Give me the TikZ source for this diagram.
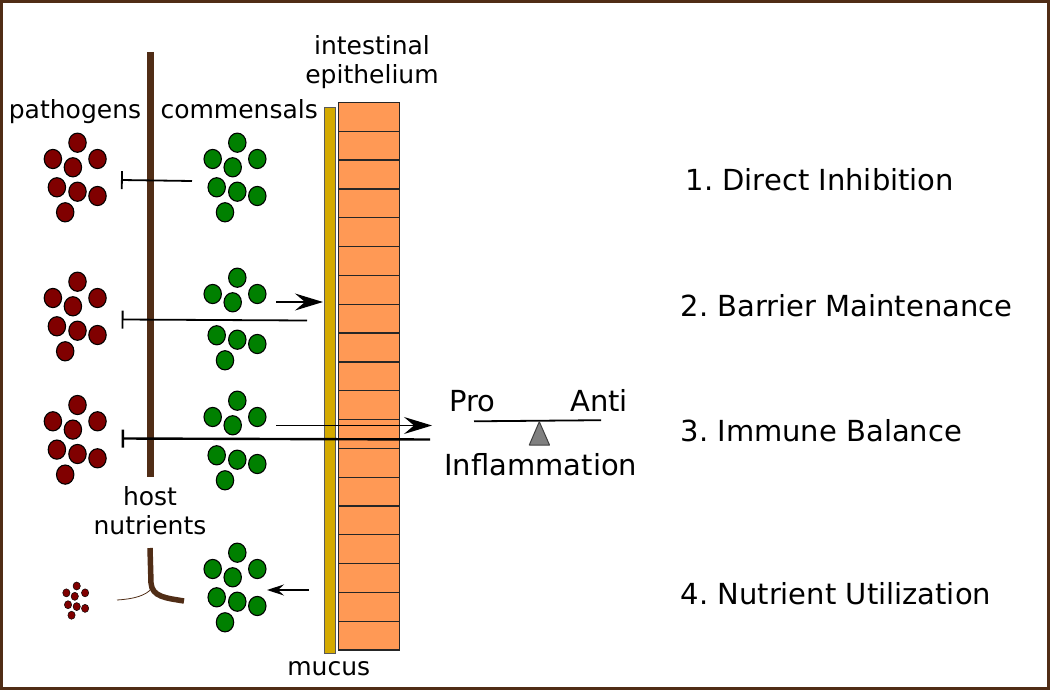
\documentclass[tikz,border=0pt]{standalone}
\usepackage{fontspec}
\setmainfont{DejaVu Sans}
\usetikzlibrary{arrows.meta}
\frenchspacing
\definecolor{bark}{HTML}{502D16}
\definecolor{mucusc}{HTML}{D4AA00}
\definecolor{cellc}{HTML}{FF9955}
\definecolor{bad}{HTML}{800000}
\definecolor{good}{HTML}{008000}
\tikzset{
  lbl/.style={font=\fontsize{25}{29.5}\selectfont, inner sep=0pt, align=center},
  title/.style={font=\fontsize{29}{34}\selectfont, inner sep=0pt, anchor=base west},
  inhib/.style={{Bar[width=18pt]}-, line width=1.8pt},
  push/.style={-{Stealth[length=28pt, width=17pt, inset=10pt]}, line width=1.3pt},
}
% one cluster of bugs: top bug at (#1,#2), colour #3, scale #4, gap #5 before the lower half
\newcommand{\bugs}[5]{%
  \foreach \dx/\dy/\g in {0/0/0, -24.6/16.3/0, 20/16.3/0, -4.6/24.6/0,
      -20.6/44.6/1, 0/49/1, 20/53.3/1, -12.3/69.6/1}
    \draw[fill=#3, line width=#4*1.1pt] ({#1+#4*\dx},{#2+#4*\dy+\g*#5})
      ellipse [x radius=#4*8.7, y radius=#4*9.6];
}
\begin{document}
\begin{tikzpicture}[x=1pt, y=-1pt]
    \useasboundingbox (0,0) rectangle (1050,690);
    \draw[bark, line width=3pt] (1.5,1.5) rectangle (1048.5,688.5);

    % gut wall
    \draw[fill=mucusc, draw=black!65, line width=0.9pt] (324.5,107.5) rectangle (335.5,653);
    \draw[fill=cellc, draw=black!85, line width=1.2pt] (338.5,102.5) rectangle (399.5,650);
    \foreach \i in {1,...,18}
    \draw[black!85, line width=1.3pt] (338.5,{102.5+\i*28.82}) -- (399.5,{102.5+\i*28.82});

    % host nutrients
    \draw[bark, line width=7pt] (150.5,52) -- (150.5,477);
    \draw[bark, line width=5.5pt] (150,548) -- (151,583) .. controls (152,597) and (166,598) .. (184,601);
    \draw[bark, line width=0.8pt] (117,600) .. controls (133,599) and (146,596) .. (152,588);

    % bugs
    \foreach \y in {142.7, 281.7, 405}
    {\bugs{77.5}{\y}{bad}{1}{0}}
    \foreach \y/\gap in {142.7/0, 277.7/13, 400.7/10, 552.7/0}
    {\bugs{237.3}{\y}{good}{1}{\gap}}
    \bugs{76.7}{586}{bad}{0.42}{0}

    % labels
    \node[lbl, anchor=base] (pathogens) at (75,118.3) {pathogens};
    \node[lbl, anchor=base] (commensals) at (239.2,118.3) {commensals};
    \node[lbl] (epithelium) at (372,62.3) {intestinal\\epithelium};
    \node[lbl] (nutrients) at (150,510.5) {host\\nutrients};
    \node[lbl, anchor=base] (mucus) at (328.8,675) {mucus};

    \node[title] (direct) at (685.5,190) {1. Direct Inhibition};
    \node[title] (barrier) at (680.5,316.7) {2. Barrier Maintenance};
    \node[title] (immune) at (680.5,441) {3. Immune Balance};
    \node[title] (nutrient) at (680.5,604) {4. Nutrient Utilization};

    % balance
    \node[title] (pro) at (449,411.7) {Pro};
    \node[title] (anti) at (570,411.7) {Anti};
    \node[title, anchor=base] (inflam) at (540.8,475) {Inflammation};
    \coordinate (beamL) at (474,421.3);
    \coordinate (beamR) at (601,420.2);
    \draw[line width=1.8pt] (beamL) -- (beamR);
    \draw[fill=black!50, draw=black!75, line width=1pt, line join=round]
      (539.3,421.7) -- (549.5,445) -- (529.3,445) -- cycle;

    % connectors
    \coordinate (p1) at (121,180); \coordinate (c1) at (192,181);
    \coordinate (p2) at (121.7,319.5); \coordinate (c2) at (307,320.5);
    \coordinate (p3) at (121.7,438.5); \coordinate (c3) at (430,439.5);
    \coordinate (s2) at (276,302); \coordinate (t2) at (323,302);
    \coordinate (s3) at (276,425.5); \coordinate (t3) at (432,425.5);
    \coordinate (s4) at (309,590); \coordinate (t4) at (267,590);
    \draw[inhib] (p1) -- (c1);
    \draw[inhib] (p2) -- (c2);
    \draw[inhib, line width=2.4pt] (p3) -- (c3);
    \draw[push] (s2) -- (t2);
    \draw[push] (s3) -- (t3);
    \draw[-{Stealth[length=17pt, width=11pt, inset=6pt]}, line width=1.3pt] (s4) -- (t4);
\end{tikzpicture}
\end{document}
